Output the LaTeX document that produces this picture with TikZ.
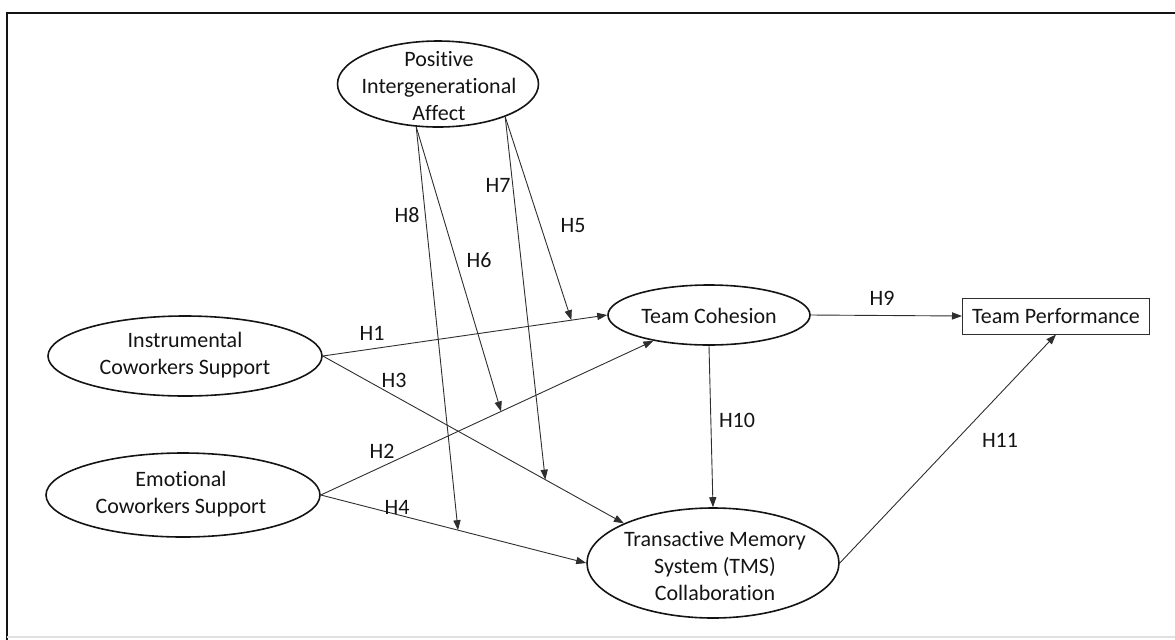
\documentclass[tikz,border=0pt]{standalone}
\usepackage{fontspec}
\setmainfont{Carlito}[RawFeature={-liga;-clig;-calt}]
\usepackage{xcolor}
\definecolor{model-ink}{HTML}{141414}
\definecolor{model-line}{HTML}{2E2E2E}
\usepackage{tikz}
\usetikzlibrary{shapes.geometric,arrows.meta}

\begin{document}
\begin{tikzpicture}[x=0.5pt,y=-0.5pt,
    construct/.style={draw=model-ink,line width=0.8pt,ellipse,inner sep=0pt},
    construct-text/.style={align=center,text=model-ink,inner sep=0pt,
        font=\fontsize{11}{13.5}\selectfont},
    path-arrow/.style={draw=model-line,line width=0.45pt,
        -{Triangle[length=5pt,width=3.6pt]}},
    hyp/.style={text=model-ink,inner sep=0pt,font=\fontsize{11}{13.5}\selectfont}]

    % Frame
    \useasboundingbox (0,0) rectangle (1175,639);
    \draw[model-ink,line width=1pt] (7,645) -- (7,13) -- (1180,13);
    \draw[black!12,line width=0.6pt] (7,637) -- (1175,637);

% Constructs
\node[construct,minimum width=100.5pt,minimum height=43pt] (pia) at (438,84) {};
\node[construct-text] (pia-t) at (439,86) {Positive\\Intergenerational\\Affect};

\node[construct,minimum width=137pt,minimum height=40pt] (ins) at (185,356) {};
\node[construct-text] (ins-t) at (185,355) {Instrumental\\Coworkers Support};

\node[construct,minimum width=137pt,minimum height=42pt] (emo) at (183,495) {};
\node[construct-text] (emo-t) at (181,494) {Emotional\\Coworkers Support};

\node[construct,minimum width=101pt,minimum height=30pt] (coh) at (709,315) {};
\node[construct-text] (coh-t) at (709,316) {Team Cohesion};

\node[construct-text,draw=model-line,line width=0.5pt,rectangle,
      minimum width=93.5pt,minimum height=18pt] (perf) at (1056,316) {Team Performance};

\node[construct,minimum width=126pt,minimum height=55pt] (tms) at (713,563) {};
\node[construct-text] (tms-t) at (715,566) {Transactive Memory\\System (TMS)\\Collaboration};

% Direct paths
\draw[path-arrow] (ins.east) -- coordinate[pos=0.874] (m5) (coh.west);
\draw[path-arrow] (emo.east) -- coordinate[pos=0.542] (m6) (coh);
\draw[path-arrow] (ins.east) -- coordinate[pos=0.739] (m7) (tms.156);
\draw[path-arrow] (emo.east) -- coordinate[pos=0.517] (m8) (tms.west);
\draw[path-arrow] (coh.east) -- (perf.west);
\draw[path-arrow] (coh.south) -- (tms.north);
\draw[path-arrow] (tms.east) -- (perf.south);

% Moderation paths
\draw[path-arrow] (pia.334) -- (m5);
\draw[path-arrow] (pia.243) -- (m6);
\draw[path-arrow] (pia.334) -- (m7);
\draw[path-arrow] (pia.243) -- (m8);

% Hypotheses
\node[hyp] (h1) at (372,333) {H1};
\node[hyp] (h2) at (382,451) {H2};
\node[hyp] (h3) at (394,380) {H3};
\node[hyp] (h4) at (397,507) {H4};
\node[hyp] (h5) at (573,226) {H5};
\node[hyp] (h6) at (479,260) {H6};
\node[hyp] (h7) at (498,185) {H7};
\node[hyp] (h8) at (407,215) {H8};
\node[hyp] (h9) at (882,298) {H9};
\node[hyp] (h10) at (737,420) {H10};
\node[hyp] (h11) at (1000,440) {H11};

\end{tikzpicture}
\end{document}
